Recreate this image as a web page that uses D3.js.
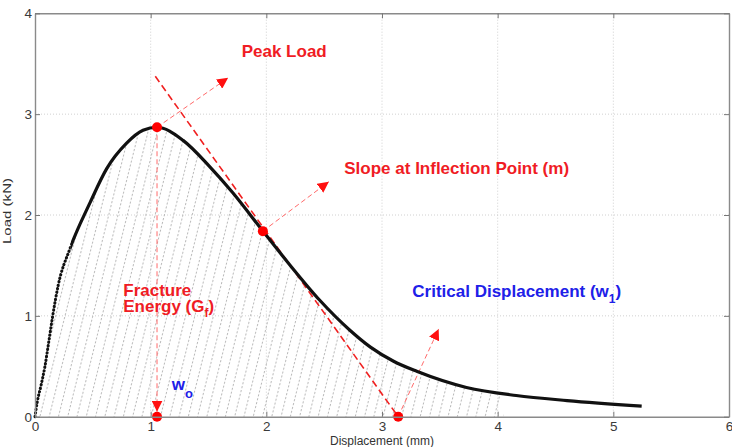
<!DOCTYPE html>
<html>
<head>
<meta charset="utf-8">
<script src="https://cdn.jsdelivr.net/npm/d3@7"></script>
<style>
    html, body { margin: 0; padding: 0; background: #fff; }
    svg { display: block; font-family: "Liberation Sans", Arial, sans-serif; }
</style>
</head>
<body>
<svg id="chart"></svg>
<script>
// Load-displacement curve
const displacement = [0, 0.02, 0.05, 0.086, 0.12, 0.153, 0.2, 0.3, 0.475, 0.62, 0.79, 0.934, 1.055,
    1.28, 1.51, 1.71, 1.97, 2.2, 2.46, 2.72, 2.9, 3.1, 3.3, 3.73, 4.16, 4.6, 5.245];
const load = [0, 0.15, 0.3, 0.5, 0.75, 1.0, 1.3, 1.66, 2.12, 2.46, 2.71, 2.84, 2.87,
    2.74, 2.48, 2.22, 1.84, 1.51, 1.157, 0.86, 0.69, 0.55, 0.45, 0.29, 0.21, 0.16, 0.105];

// Characteristic points: peak, inflection, w1, w0
const markerDisp = [1.055, 1.97, 3.14, 1.055];
const markerLoad = [2.87, 1.84, 0, 0];

// Tangent at inflection point
const tangentDisp = [1.04, 3.14];
const tangentLoad = [3.375, 0];

// Annotation arrows (start -> tip)
const arrowStartDisp = [1.055, 1.97, 3.14, 1.055];
const arrowStartLoad = [2.87, 1.84, 0, 2.87];
const arrowEndDisp = [1.67, 2.54, 3.49, 1.055];
const arrowEndLoad = [3.36, 2.33, 0.87, 0.05];

const xTicks = [0, 1, 2, 3, 4, 5, 6];
const yTicks = [0, 1, 2, 3, 4];
const hatchLimit = 4.05;
const dottedLimit = 0.31;

const W = 732, H = 447;
const RED = '#f01c24', BLUE = '#2020e8';

const svg = d3.select('#chart').attr('width', W).attr('height', H);

const x = d3.scaleLinear().domain([0, 6]).range([35, 729]);
const y = d3.scaleLinear().domain([0, 4]).range([416.7, 13.3]);

const curve = displacement.map((d, i) => ({ d, l: load[i] }));

// =========================================
// DEFS: hatch pattern, clips, arrowhead
// =========================================
const defs = svg.append('defs');

const pat = defs.append('pattern')
    .attr('id', 'hatch')
    .attr('patternUnits', 'userSpaceOnUse')
    .attr('width', 9)
    .attr('height', 4)
    .attr('patternTransform', 'rotate(14)');
pat.append('line')
    .attr('x1', 4.5).attr('x2', 4.5)
    .attr('y1', 0).attr('y2', 2.2)
    .attr('stroke', '#a8a8a8')
    .attr('stroke-width', 0.8);

function clipRect(id, x0, x1) {
    defs.append('clipPath').attr('id', id)
        .append('rect')
        .attr('x', x0).attr('y', 0)
        .attr('width', x1 - x0)
        .attr('height', H);
}
clipRect('hatch-clip', x(0), x(hatchLimit));
clipRect('dots-clip', 0, x(dottedLimit));
clipRect('solid-clip', x(dottedLimit), W);

defs.append('marker')
    .attr('id', 'arrow')
    .attr('viewBox', '0 0 10 10')
    .attr('refX', 10).attr('refY', 5)
    .attr('markerWidth', 11).attr('markerHeight', 11)
    .attr('markerUnits', 'userSpaceOnUse')
    .attr('orient', 'auto')
    .append('path')
    .attr('d', 'M0,0 L10,5 L0,10 Z')
    .attr('fill', '#ff1010');

// =========================================
// GRID
// =========================================
const grid = svg.append('g').attr('class', 'grid')
    .attr('stroke', '#c4c4c4')
    .attr('stroke-width', 0.8)
    .attr('stroke-dasharray', '1,2');

grid.selectAll('.gx').data(xTicks.slice(1, -1)).join('line')
    .attr('x1', d => x(d)).attr('x2', d => x(d))
    .attr('y1', y(0)).attr('y2', y(4));

grid.selectAll('.gy').data(yTicks.slice(1, -1)).join('line')
    .attr('y1', d => y(d)).attr('y2', d => y(d))
    .attr('x1', x(0)).attr('x2', x(6));

// Hatched area under the curve
svg.append('path')
    .datum(curve)
    .attr('clip-path', 'url(#hatch-clip)')
    .attr('fill', 'url(#hatch)')
    .attr('d', d3.area()
        .x(p => x(p.d))
        .y0(y(0))
        .y1(p => y(p.l))
        .curve(d3.curveMonotoneX));

// =========================================
// ANNOTATION LINES
// =========================================
svg.append('line')
    .attr('x1', x(tangentDisp[0])).attr('y1', y(tangentLoad[0]))
    .attr('x2', x(tangentDisp[1])).attr('y2', y(tangentLoad[1]))
    .attr('stroke', '#f02020')
    .attr('stroke-width', 1.6)
    .attr('stroke-dasharray', '7,4');

svg.append('g').selectAll('line').data(arrowStartDisp).join('line')
    .attr('x1', (d, i) => x(d))
    .attr('y1', (d, i) => y(arrowStartLoad[i]))
    .attr('x2', (d, i) => x(arrowEndDisp[i]))
    .attr('y2', (d, i) => y(arrowEndLoad[i]))
    .attr('stroke', '#ff6a6a')
    .attr('stroke-width', 1)
    .attr('stroke-dasharray', '5,3')
    .attr('marker-end', 'url(#arrow)');

// =========================================
// CURVE
// =========================================
const line = d3.line()
    .x(p => x(p.d))
    .y(p => y(p.l))
    .curve(d3.curveMonotoneX);

// steep rising part looks like separate dots
svg.append('path')
    .datum(curve)
    .attr('d', line)
    .attr('clip-path', 'url(#dots-clip)')
    .attr('fill', 'none')
    .attr('stroke', '#111')
    .attr('stroke-width', 3)
    .attr('stroke-linecap', 'round')
    .attr('stroke-dasharray', '0.4,3.2');

svg.append('path')
    .datum(curve)
    .attr('d', line)
    .attr('clip-path', 'url(#solid-clip)')
    .attr('fill', 'none')
    .attr('stroke', '#111')
    .attr('stroke-width', 3.2)
    .attr('stroke-linejoin', 'round');

// Red markers
svg.append('g').selectAll('circle').data(markerDisp).join('circle')
    .attr('cx', d => x(d))
    .attr('cy', (d, i) => y(markerLoad[i]))
    .attr('r', 5)
    .attr('fill', '#ff0000');

// =========================================
// TEXTS
// =========================================
const labels = svg.append('g')
    .attr('font-weight', 'bold')
    .attr('font-size', 17);

labels.append('text').attr('x', x(1.787)).attr('y', y(3.57))
    .attr('fill', RED).text('Peak Load');

labels.append('text').attr('x', x(2.674)).attr('y', y(2.407))
    .attr('fill', RED).text('Slope at Inflection Point (m)');

labels.append('text').attr('x', x(0.763)).attr('y', y(1.2))
    .attr('fill', RED).text('Fracture');

const energy = labels.append('text').attr('x', x(0.763)).attr('y', y(1.035))
    .attr('fill', RED);
energy.append('tspan').text('Energy (G');
energy.append('tspan').attr('font-size', 12).attr('dy', 5).text('f');
energy.append('tspan').attr('dy', -5).text(')');

const crit = labels.append('text').attr('x', x(3.262)).attr('y', y(1.184))
    .attr('fill', BLUE);
crit.append('tspan').text('Critical Displacement (w');
crit.append('tspan').attr('font-size', 12).attr('dy', 6).text('1');
crit.append('tspan').attr('dy', -6).text(')');

const w0 = labels.append('text').attr('x', x(1.182)).attr('y', y(0.265))
    .attr('fill', BLUE);
w0.append('tspan').text('w');
w0.append('tspan').attr('font-size', 13).attr('dy', 8).text('o');

// =========================================
// AXES (box with inward ticks)
// =========================================
function styleAxis(g) {
    g.select('.domain').attr('stroke', '#8a8a8a').attr('stroke-width', 1.4);
    g.selectAll('.tick line').attr('stroke', '#777').attr('stroke-width', 1);
    g.selectAll('.tick text').attr('fill', '#3a3a3a').attr('font-size', 13.5);
}

svg.append('g')
    .attr('transform', `translate(0,${y(0)})`)
    .call(d3.axisBottom(x).tickValues(xTicks).tickSize(-5).tickSizeOuter(0)
        .tickPadding(5).tickFormat(d3.format('d')))
    .call(styleAxis);

svg.append('g')
    .attr('transform', `translate(0,${y(4)})`)
    .call(d3.axisTop(x).tickValues(xTicks).tickSize(-5).tickSizeOuter(0).tickFormat(''))
    .call(styleAxis);

svg.append('g')
    .attr('transform', `translate(${x(0)},0)`)
    .call(d3.axisLeft(y).tickValues(yTicks).tickSize(-5).tickSizeOuter(0)
        .tickPadding(3).tickFormat(d3.format('d')))
    .call(styleAxis);

svg.append('g')
    .attr('transform', `translate(${x(6)},0)`)
    .call(d3.axisRight(y).tickValues(yTicks).tickSize(-5).tickSizeOuter(0).tickFormat(''))
    .call(styleAxis);

// Axis titles
svg.append('text')
    .attr('x', (x(0) + x(6)) / 2)
    .attr('y', 444.5)
    .attr('text-anchor', 'middle')
    .attr('font-size', 12)
    .attr('fill', '#333')
    .text('Displacement (mm)');

svg.append('text')
    .attr('transform', `translate(11,${y(2) - 4}) rotate(-90)`)
    .attr('text-anchor', 'middle')
    .attr('font-size', 11.5)
    .attr('textLength', 66)
    .attr('lengthAdjust', 'spacingAndGlyphs')
    .attr('fill', '#333')
    .text('Load (kN)');
</script>
</body>
</html>
